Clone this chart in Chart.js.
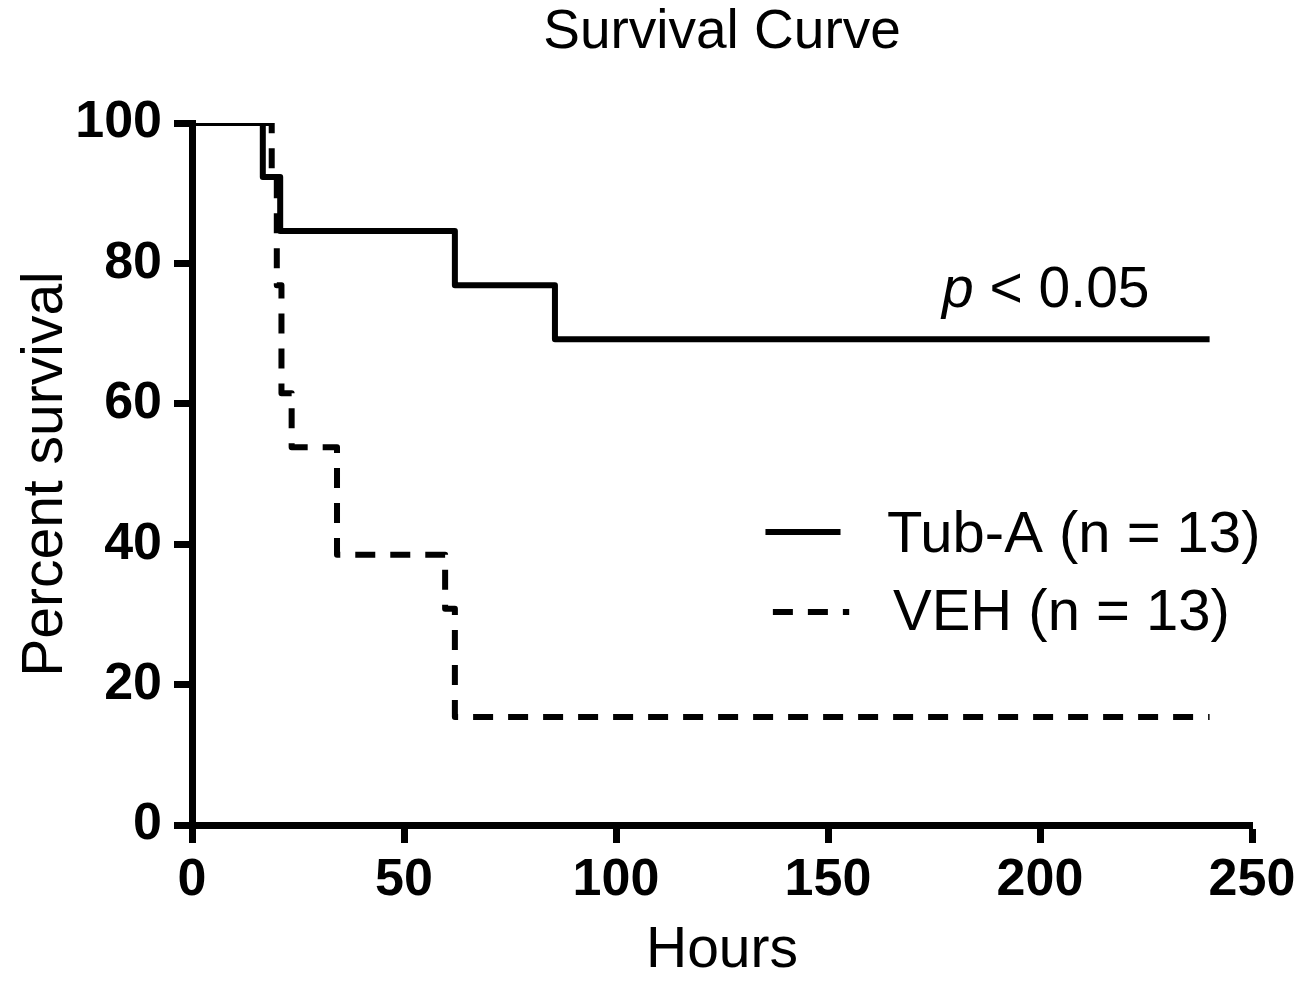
<!DOCTYPE html>
<html>
<head>
<meta charset="utf-8">
<script src="https://cdn.jsdelivr.net/npm/chart.js@4/dist/chart.umd.min.js"></script>
<style>
  html, body { margin: 0; padding: 0; background: #fff; }
  #wrap { width: 1309px; height: 985px; }
</style>
</head>
<body>
<div id="wrap"><canvas id="c" width="1309" height="985"></canvas></div>
<script>
// ---- Data ----
const tubTimes = [0, 16.7, 20.8, 62.0, 85.6, 240];
const tubSurvival = [100, 92.3, 84.6, 76.9, 69.2, 69.2];
const vehTimes = [0, 18.8, 20.0, 21.1, 23.5, 34.2, 59.7, 62.0, 240];
const vehSurvival = [100, 92.3, 76.9, 61.5, 53.8, 38.5, 30.8, 15.4, 15.4];
const seriesLabels = ['Tub-A (n = 13)', 'VEH (n = 13)'];
const xTicks = [0, 50, 100, 150, 200, 250];
const yTicks = [0, 20, 40, 60, 80, 100];
const titleText = 'Survival Curve';
const xTitle = 'Hours';
const yTitle = 'Percent survival';
const pText = ['p', ' < 0.05'];

const FONT = "'Liberation Sans', Arial, Helvetica, sans-serif";

function pts(xs, ys) { return xs.map((x, i) => ({ x: x, y: ys[i] })); }

const overlayPlugin = {
  id: 'overlay',
  afterDraw(chart) {
    const ctx = chart.ctx;
    const a = chart.chartArea;
    const w = a.right - a.left, h = a.bottom - a.top;
    ctx.save();
    ctx.fillStyle = '#000';
    ctx.textBaseline = 'alphabetic';
    // p-value annotation
    const px = a.left + w * 0.7075, py = a.top + h * 0.2621;
    ctx.font = 'italic 57px ' + FONT;
    ctx.fillText(pText[0], px, py);
    const pw = ctx.measureText(pText[0]).width;
    ctx.font = '57px ' + FONT;
    ctx.fillText(pText[1], px + pw, py);
    // legend
    const ds = chart.data.datasets;
    const rows = [
      { lx0: a.left + w * 0.5410, lx1: a.left + w * 0.6118, ly: a.top + h * 0.5826, tx: a.left + w * 0.6557, ty: a.top + h * 0.6112 },
      { lx0: a.left + w * 0.5480, lx1: a.left + w * 0.6200, ly: a.top + h * 0.6966, tx: a.left + w * 0.6613, ty: a.top + h * 0.7222 }
    ];
    ds.forEach((d, i) => {
      const r = rows[i];
      ctx.save();
      ctx.strokeStyle = d.borderColor;
      ctx.lineWidth = d.borderWidth;
      ctx.lineCap = 'butt';
      ctx.setLineDash(d.borderDash || []);
      ctx.beginPath();
      ctx.moveTo(r.lx0, r.ly);
      ctx.lineTo(r.lx1, r.ly);
      ctx.stroke();
      ctx.restore();
      ctx.font = '58px ' + FONT;
      ctx.fillText(d.label, r.tx, r.ty);
    });
    ctx.restore();
  }
};

new Chart(document.getElementById('c'), {
  type: 'line',
  data: {
    datasets: [
      {
        label: seriesLabels[0],
        data: pts(tubTimes, tubSurvival),
        stepped: 'before',
        borderColor: '#000',
        borderWidth: 6,
        borderJoinStyle: 'round',
        pointRadius: 0,
        fill: false
      },
      {
        label: seriesLabels[1],
        data: pts(vehTimes, vehSurvival),
        stepped: 'before',
        borderColor: '#000',
        borderWidth: 6,
        borderDash: [20, 15],
        borderCapStyle: 'butt',
        borderJoinStyle: 'round',
        pointRadius: 0,
        fill: false
      }
    ]
  },
  options: {
    responsive: false,
    animation: false,
    layout: { padding: { left: 0, right: 57, top: 0, bottom: 0 } },
    plugins: {
      legend: { display: false },
      tooltip: { enabled: false },
      title: {
        display: true,
        text: titleText,
        fullSize: false,
        color: '#000',
        font: { family: FONT, size: 55, weight: 'normal' },
        padding: { top: 0, bottom: 57 }
      }
    },
    scales: {
      x: {
        type: 'linear',
        min: 0, max: 250,
        afterBuildTicks(scale) { scale.ticks = xTicks.map(v => ({ value: v })); },
        afterFit(scale) { scale.height = 160; },
        ticks: { color: '#000', font: { family: FONT, size: 52, weight: 'bold' }, padding: 6, maxRotation: 0 },
        grid: { display: true, drawOnChartArea: false, drawTicks: true, tickLength: 18, tickWidth: 7, tickColor: '#000' },
        border: { display: true, color: '#000', width: 7 },
        title: { display: true, text: xTitle, color: '#000', font: { family: FONT, size: 57, weight: 'normal' }, padding: { top: 0, bottom: 0 } }
      },
      y: {
        type: 'linear',
        min: 0, max: 100,
        afterBuildTicks(scale) { scale.ticks = yTicks.map(v => ({ value: v })); },
        afterFit(scale) { scale.width = 192; },
        ticks: { color: '#000', font: { family: FONT, size: 52, weight: 'bold' }, padding: 12 },
        grid: { display: true, drawOnChartArea: false, drawTicks: true, tickLength: 18, tickWidth: 7, tickColor: '#000' },
        border: { display: true, color: '#000', width: 7 },
        title: { display: true, text: yTitle, color: '#000', font: { family: FONT, size: 57, weight: 'normal' }, padding: { top: 12, bottom: 0 } }
      }
    }
  },
  plugins: [overlayPlugin]
});
</script>
</body>
</html>
